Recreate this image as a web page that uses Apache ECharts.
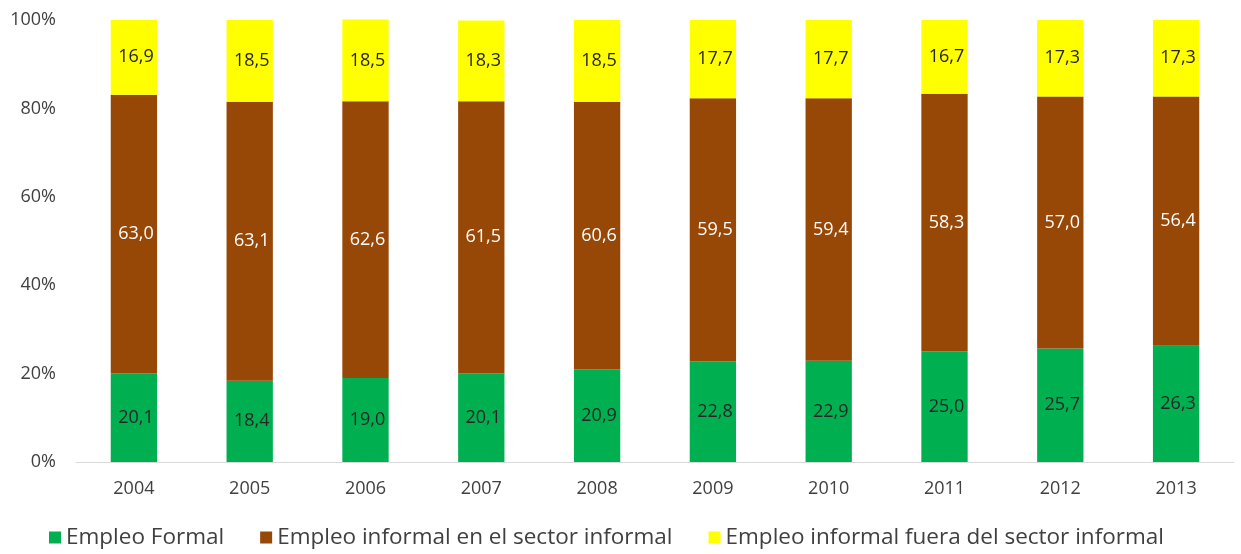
<!DOCTYPE html>
<html><head><meta charset="utf-8">
<script src="https://cdn.jsdelivr.net/npm/echarts@6/dist/echarts.min.js"></script>
<style>html,body{margin:0;padding:0;background:#fff}#c{width:1241px;height:554px}</style>
</head><body><div id="c"></div>
<script>
const years = ['2004','2005','2006','2007','2008','2009','2010','2011','2012','2013'];
const formal = [20.1,18.4,19.0,20.1,20.9,22.8,22.9,25.0,25.7,26.3];
const informalEn = [63.0,63.1,62.6,61.5,60.6,59.5,59.4,58.3,57.0,56.4];
const informalFuera = [16.9,18.5,18.5,18.3,18.5,17.7,17.7,16.7,17.3,17.3];
const fmt = p => p.value.toFixed(1).replace('.', ',');
const font = '"Open Sans", "DejaVu Sans", sans-serif';
const chart = echarts.init(document.getElementById('c'));
function s(name, data, color, labelColor){
  return {name, type:'bar', stack:'t', data, barWidth:'40%', clip:false,
    itemStyle:{color},
    label:{show:true, position:'inside', offset:[2,0], formatter:fmt, color:labelColor, fontSize:18, fontFamily:font}};
}
chart.setOption({
  animation:false,
  grid:{left:76, right:7, top:20, bottom:92},
  xAxis:{type:'category', data:years, axisTick:{show:false},
    axisLine:{lineStyle:{color:'#d9d9d9'}},
    axisLabel:{color:'#404040', fontSize:18, fontFamily:font, margin:18}},
  yAxis:{type:'value', min:0, max:100, interval:20, splitLine:{show:false},
    axisLabel:{formatter:'{value}%', color:'#404040', fontSize:18, fontFamily:font, margin:20}},
  legend:{bottom:0, left:44, itemWidth:12, itemHeight:12, itemGap:36, icon:'rect',
    textStyle:{color:'#404040', fontSize:22.5, fontFamily:font}},
  series:[
    s('Empleo Formal', formal, '#00b050', '#262626'),
    s('Empleo informal en el sector informal', informalEn, '#974706', '#ffffff'),
    s('Empleo informal fuera del sector informal', informalFuera, '#ffff00', '#262626')
  ]
});
</script></body></html>
